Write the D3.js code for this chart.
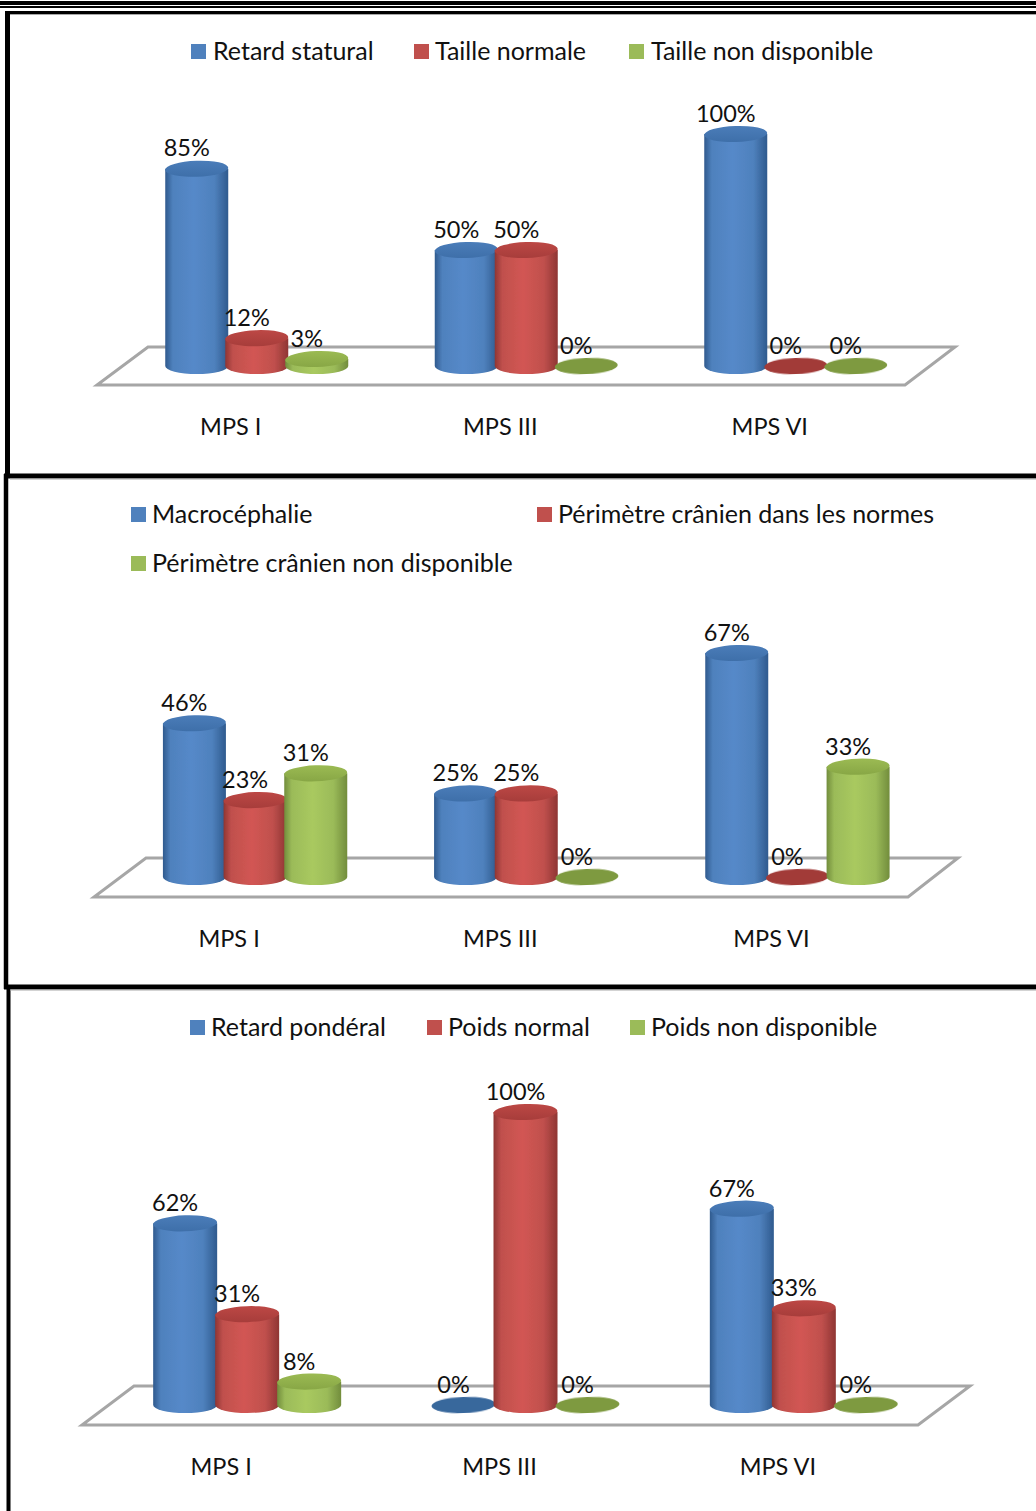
<!DOCTYPE html>
<html lang="fr">
<head>
<meta charset="utf-8">
<script src="https://cdnjs.cloudflare.com/ajax/libs/d3/7.8.5/d3.min.js"></script>
<style>
  html, body { margin: 0; padding: 0; background: #fff; }
  svg { display: block; }
  text { font-family: Lato, "Open Sans", sans-serif; fill: #111; }
</style>
</head>
<body>
<svg id="chart" width="1036" height="1511"></svg>
<script>
// Clinical data: share of patients per mucopolysaccharidosis type (%)
const categories = ["MPS I", "MPS III", "MPS VI"];

const statureSeries = ["Retard statural", "Taille normale", "Taille non disponible"];
const statureValues = [[85, 12, 3], [50, 50, 0], [100, 0, 0]];

const headSeries = ["Macrocéphalie", "Périmètre crânien dans les normes", "Périmètre crânien non disponible"];
const headValues = [[46, 23, 31], [25, 25, 0], [67, 0, 33]];

const weightSeries = ["Retard pondéral", "Poids normal", "Poids non disponible"];
const weightValues = [[62, 31, 8], [0, 100, 0], [67, 33, 0]];

const panels = [
  { series: statureSeries, values: statureValues, domainMax: 100,
    base: 366, top: 134, groups: [122, 930.5], inner: [-90, 90], rx: 31.5, ry: 8, labelDy: 0.5,
    floor: [[97, 385], [905, 385], [955, 347], [148, 347]], catY: 435,
    legend: [[191, 44, 213], [414, 44, 435], [629, 44, 651]] },
  { series: headSeries, values: headValues, domainMax: 67,
    base: 877, top: 653, groups: [119.5, 933], inner: [-91, 91], rx: 31.5, ry: 8, labelDy: 1,
    floor: [[94, 897], [908, 897], [958, 858], [146, 858]], catY: 947,
    legend: [[131, 507, 152], [537, 507, 558], [131, 556, 152]] },
  { series: weightSeries, values: weightValues, domainMax: 100,
    base: 1405, top: 1112, groups: [108, 943], inner: [-93, 93], rx: 32, ry: 8, labelDy: 1,
    floor: [[82, 1425], [918, 1425], [970, 1386], [134, 1386]], catY: 1475,
    legend: [[190, 1020, 211], [427, 1020, 448], [630, 1020, 651]] }
];

const palette = [
  { flat: "#4f81bd", edge: "#2f5a8e", mid: "#5589c9", cap: "#3d6ea8", capLight: "#4a7cb8", zero: "#39679c" },
  { flat: "#c0504d", edge: "#8f3533", mid: "#d25653", cap: "#a53c3a", capLight: "#bb4744", zero: "#a23a38" },
  { flat: "#9bbb59", edge: "#728d3c", mid: "#a9c95f", cap: "#86a544", capLight: "#9ab952", zero: "#7e9a40" }
];

const svg = d3.select("#chart");
const defs = svg.append("defs");

palette.forEach((c, i) => {
  const body = defs.append("linearGradient").attr("id", "body" + i);
  [[0, c.edge], [0.12, c.flat], [0.45, c.mid], [0.78, c.flat], [1, c.edge]].forEach(([o, col]) =>
    body.append("stop").attr("offset", o).attr("stop-color", col));
  const cap = defs.append("linearGradient").attr("id", "cap" + i)
    .attr("x1", 0).attr("x2", 0.2).attr("y1", 1).attr("y2", 0);
  cap.append("stop").attr("offset", 0).attr("stop-color", c.cap);
  cap.append("stop").attr("offset", 1).attr("stop-color", c.capLight);
});

// Soft edge on the cylinders
defs.append("filter").attr("id", "soft")
  .attr("x", "-10%").attr("y", "-10%").attr("width", "120%").attr("height", "120%")
  .append("feGaussianBlur").attr("stdDeviation", 0.6);

// Frames around the three panels
const frameColor = "#000";
[[0, 3, 1036, 3, 4], [0, 7, 1036, 7, 2]].forEach(([x1, y1, x2, y2, w]) =>
  svg.append("line").attr("x1", x1).attr("y1", y1).attr("x2", x2).attr("y2", y2)
    .attr("stroke", frameColor).attr("stroke-width", w));

[
  [5, 12.5, 1036, 12.5, 3], [7.5, 11, 7.5, 476, 5],
  [4, 476, 1036, 476, 5], [6, 474, 6, 989, 4.5],
  [4, 987, 1036, 987, 5], [8.5, 985, 8.5, 1511, 4]
].forEach(([x1, y1, x2, y2, w]) =>
  svg.append("line").attr("x1", x1).attr("y1", y1).attr("x2", x2).attr("y2", y2)
    .attr("stroke", frameColor).attr("stroke-width", w));

// Thin grey shadow under the horizontal frame lines
[[14.5], [479], [990]].forEach(([y]) =>
  svg.append("line").attr("x1", 10).attr("x2", 1036).attr("y1", y).attr("y2", y)
    .attr("stroke", "#a8a8a8").attr("stroke-width", 1));

function cylinderPath(cx, yTop, yBase, rx, ry) {
  return `M${cx - rx},${yTop} L${cx - rx},${yBase} A${rx},${ry} 0 0 0 ${cx + rx},${yBase} L${cx + rx},${yTop} Z`;
}

panels.forEach(p => {
  const g = svg.append("g");
  const y = d3.scaleLinear().domain([0, p.domainMax]).range([p.base, p.top]);
  const x0 = d3.scaleBand().domain(categories).range(p.groups);
  const x1 = d3.scaleBand().domain(d3.range(p.series.length)).range(p.inner);

  // Floor of the 3D plot
  g.append("path")
    .attr("d", d3.line()(p.floor) + "Z")
    .attr("fill", "#fff")
    .attr("stroke", "#a6a6a6")
    .attr("stroke-width", 3)
    .attr("stroke-linejoin", "miter");

  // Legend
  const legend = g.selectAll(".legend").data(p.series).join("g").attr("class", "legend");
  legend.append("rect")
    .attr("x", (d, i) => p.legend[i][0])
    .attr("y", (d, i) => p.legend[i][1])
    .attr("width", 15).attr("height", 15)
    .attr("fill", (d, i) => palette[i].flat);
  legend.append("text")
    .attr("x", (d, i) => p.legend[i][2])
    .attr("y", (d, i) => p.legend[i][1] + 16)
    .attr("font-size", 25)
    .text(d => d);

  // Cylinders, drawn left to right so neighbours overlap as in a 3D chart
  categories.forEach((cat, ci) => {
    const center = x0(cat) + x0.bandwidth() / 2;
    const group = g.append("g");
    p.values[ci].forEach((v, si) => {
      const cx = center + x1(si) + x1.bandwidth() / 2;
      const yTop = y(v);
      const tilt = `rotate(-2 ${cx} ${v > 0 ? yTop : p.base})`;
      const bar = group.append("g");
      if (v > 0) {
        bar.append("path")
          .attr("d", cylinderPath(cx, yTop, p.base, p.rx, p.ry))
          .attr("fill", `url(#body${si})`)
          .attr("filter", "url(#soft)");
        bar.append("ellipse")
          .attr("cx", cx).attr("cy", yTop).attr("rx", p.rx).attr("ry", p.ry)
          .attr("transform", tilt)
          .attr("fill", `url(#cap${si})`);
      } else {
        bar.append("ellipse")
          .attr("cx", cx).attr("cy", p.base).attr("rx", p.rx).attr("ry", p.ry)
          .attr("transform", tilt)
          .attr("fill", palette[si].zero)
          .attr("filter", "url(#soft)");
      }
      g.append("text")
        .attr("class", "value")
        .attr("x", cx - 10)
        .attr("y", yTop - p.ry - 5 + p.labelDy)
        .attr("text-anchor", "middle")
        .attr("font-size", 23.5)
        .text(v + "%");
    });
    g.append("text")
      .attr("x", center - 26)
      .attr("y", p.catY)
      .attr("text-anchor", "middle")
      .attr("font-size", 23.5)
      .text(cat);
  });

  g.selectAll("text.value").raise();
});
</script>
</body>
</html>
